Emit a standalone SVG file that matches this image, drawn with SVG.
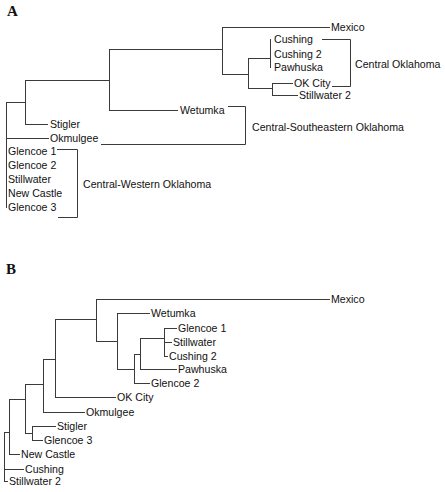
<svg xmlns="http://www.w3.org/2000/svg" width="445" height="492" viewBox="0 0 445 492">
<style>
.e{fill:none;stroke:#3a3a3a;stroke-width:1}
.t{font-family:"Liberation Sans",Arial,sans-serif;font-size:10.6px;fill:#111}
.p{font-family:"Liberation Serif","Times New Roman",serif;font-size:15px;font-weight:bold;fill:#111}
</style>
<rect width="445" height="492" fill="#fff"/>
<g id="connectors" class="e">
<!-- Tree A -->
<path d="M6.5,102 V208 M6,102.5 H25 M25.5,80 V124 M25,80.5 H109 M25,124.5 H48 M6,138.5 H49"/>
<path d="M109.5,49 V110 M109,49.5 H222 M109,110.5 H178"/>
<path d="M222.5,27 V74 M222,27.5 H330 M222,74.5 H248"/>
<path d="M248.5,58 V88 M248,58.5 H270 M248,88.5 H272"/>
<path d="M270.5,39 V68"/>
<path d="M272.5,83 V95 M272,83.5 H293 M272,95.5 H298"/>
<path d="M322,39.5 H350.5 V86.5 H332"/>
<path d="M228,106.5 H245.5 V144.5 H101"/>
<path d="M57,149.5 H77.5 V217.5 H58"/>
<!-- Tree B -->
<path d="M4.5,432 V481 M4,432.5 H9 M4,469.5 H24 M4,481.5 H8"/>
<path d="M9.5,399 V454 M9,454.5 H20 M9,399.5 H25"/>
<path d="M25.5,384 V433 M25,433.5 H32 M25,384.5 H43"/>
<path d="M32.5,426 V440 M32,426.5 H56 M32,440.5 H43"/>
<path d="M43.5,359 V412 M43,412.5 H85 M43,359.5 H55"/>
<path d="M55.5,319 V397 M55,397.5 H116 M55,319.5 H96"/>
<path d="M96.5,299 V341 M96,299.5 H330 M96,341.5 H117"/>
<path d="M117.5,313 V369 M117,313.5 H150 M117,369.5 H134"/>
<path d="M134.5,354 V383 M134,383.5 H150 M134,354.5 H140"/>
<path d="M140.5,338 V369 M140,369.5 H177 M140,338.5 H164"/>
<path d="M164.5,328 V356 M164,328.5 H177 M164,342.5 H172 M164,356.5 H168"/>
</g>
<g id="panelA">
<text class="p" x="7" y="16">A</text>
<g id="a-mexico"><text class="t" x="331" y="31">Mexico</text></g>
<g id="a-cushing"><text class="t" x="274" y="43">Cushing</text></g>
<g id="a-cushing2"><text class="t" x="274" y="57.5">Cushing 2</text></g>
<g id="a-pawhuska"><text class="t" x="274" y="71">Pawhuska</text></g>
<g id="a-okcity"><text class="t" x="294" y="87">OK City</text></g>
<g id="a-stillwater2"><text class="t" x="299" y="99">Stillwater 2</text></g>
<g id="a-central"><text class="t" x="355" y="68">Central Oklahoma</text></g>
<g id="a-wetumka"><text class="t" x="180" y="114">Wetumka</text></g>
<g id="a-stigler"><text class="t" x="50" y="128">Stigler</text></g>
<g id="a-okmulgee"><text class="t" x="50" y="142">Okmulgee</text></g>
<g id="a-cse"><text class="t" x="252" y="131">Central-Southeastern Oklahoma</text></g>
<g id="a-glencoe1"><text class="t" x="8" y="155">Glencoe 1</text></g>
<g id="a-glencoe2"><text class="t" x="8" y="169">Glencoe 2</text></g>
<g id="a-stillwater"><text class="t" x="8" y="183">Stillwater</text></g>
<g id="a-newcastle"><text class="t" x="8" y="197">New Castle</text></g>
<g id="a-glencoe3"><text class="t" x="8" y="211">Glencoe 3</text></g>
<g id="a-cw"><text class="t" x="83" y="188">Central-Western Oklahoma</text></g>
</g>
<g id="panelB">
<text class="p" x="6" y="274">B</text>
<g id="b-mexico"><text class="t" x="331" y="303">Mexico</text></g>
<g id="b-wetumka"><text class="t" x="151" y="317">Wetumka</text></g>
<g id="b-glencoe1"><text class="t" x="178" y="332">Glencoe 1</text></g>
<g id="b-stillwater"><text class="t" x="173" y="346">Stillwater</text></g>
<g id="b-cushing2"><text class="t" x="169" y="360">Cushing 2</text></g>
<g id="b-pawhuska"><text class="t" x="178" y="373">Pawhuska</text></g>
<g id="b-glencoe2"><text class="t" x="151" y="387">Glencoe 2</text></g>
<g id="b-okcity"><text class="t" x="117" y="401">OK City</text></g>
<g id="b-okmulgee"><text class="t" x="86" y="416">Okmulgee</text></g>
<g id="b-stigler"><text class="t" x="57" y="430">Stigler</text></g>
<g id="b-glencoe3"><text class="t" x="44" y="444">Glencoe 3</text></g>
<g id="b-newcastle"><text class="t" x="21" y="458">New Castle</text></g>
<g id="b-cushing"><text class="t" x="25" y="473">Cushing</text></g>
<g id="b-stillwater2"><text class="t" x="9" y="485">Stillwater 2</text></g>
</g>
</svg>
